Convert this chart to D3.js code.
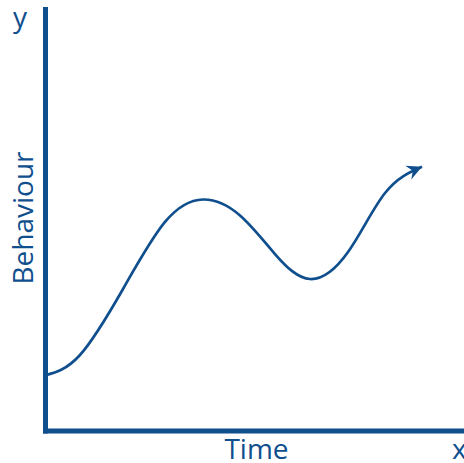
<!DOCTYPE html>
<html>
<head>
<meta charset="utf-8">
<script src="https://cdn.jsdelivr.net/npm/d3@7"></script>
<style>
  html, body { margin: 0; padding: 0; background: #fff; }
  svg { display: block; }
  text { font-family: "Open Sans", sans-serif; fill: #104f8e; }
</style>
</head>
<body>
<svg id="chart" width="464" height="463"></svg>
<script>
// Data (arbitrary units, 0-100 on both axes)
const timeVals = [0, 8.35, 18.62, 28.64, 37.71, 46.54, 54.89, 63.25, 72.32, 81.15, 89.98];
const behaviourVals = [13.05, 17.91, 33.57, 49.47, 54.80, 51.02, 41.87, 35.94, 42.35, 56.35, 62.59];
const xLabel = "Time";
const yLabel = "Behaviour";
const xAxisLetter = "x";
const yAxisLetter = "y";

const color = "#104f8e";
const svg = d3.select("#chart");

const x = d3.scaleLinear().domain([0, 100]).range([45, 464]);
const y = d3.scaleLinear().domain([0, 100]).range([430.5, 9]);

// Axes (no ticks, thick domain lines)
const gx = svg.append("g").attr("transform", `translate(0,${y(0)})`)
  .call(d3.axisBottom(x).ticks(0).tickSizeOuter(0));
const gy = svg.append("g").attr("transform", `translate(${x(0)},0)`)
  .call(d3.axisLeft(y).ticks(0).tickSizeOuter(0));
[gx, gy].forEach(g => g.select(".domain")
  .attr("stroke", color).attr("stroke-width", 5).attr("stroke-linecap", "square"));

// Arrow marker
svg.append("defs").append("marker")
  .attr("id", "arrow")
  .attr("viewBox", "-16 -9 17 18")
  .attr("refX", 0).attr("refY", 0)
  .attr("markerWidth", 17).attr("markerHeight", 18)
  .attr("markerUnits", "userSpaceOnUse")
  .attr("orient", "auto")
  .append("path")
  .attr("d", "M0,0 L-15,-7.5 L-10,0 L-15,7.5 Z")
  .attr("fill", color);

const pts = timeVals.map((t, i) => [t, behaviourVals[i]]);
const line = d3.line()
  .x(d => x(d[0]))
  .y(d => y(d[1]))
  .curve(d3.curveNatural);

svg.append("path")
  .datum(pts)
  .attr("d", line)
  .attr("fill", "none")
  .attr("stroke", color)
  .attr("stroke-width", 2.7)
  .attr("marker-end", "url(#arrow)");

// Labels
svg.append("text").attr("x", 20).attr("y", 27).attr("text-anchor", "middle")
  .attr("font-size", 28).text(yAxisLetter);
svg.append("text").attr("x", 256.5).attr("y", 459).attr("text-anchor", "middle")
  .attr("font-size", 28).text(xLabel);
svg.append("text").attr("x", 452).attr("y", 459).attr("text-anchor", "start")
  .attr("font-size", 28).text(xAxisLetter);
svg.append("text").attr("transform", "translate(33,218) rotate(-90)")
  .attr("text-anchor", "middle").attr("font-size", 28).text(yLabel);
</script>
</body>
</html>
